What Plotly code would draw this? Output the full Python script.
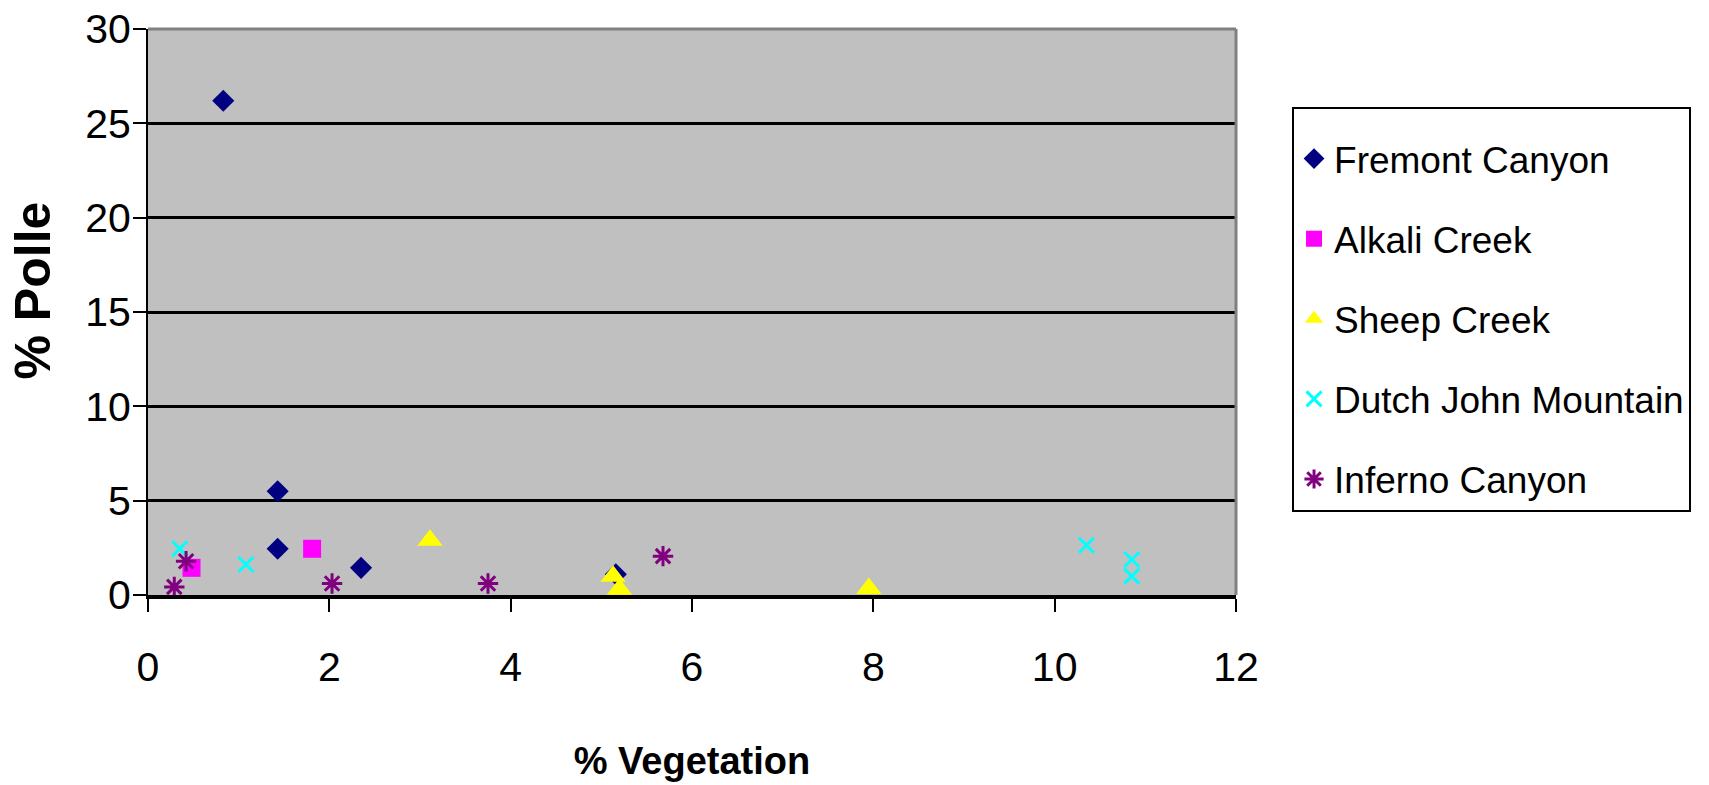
import plotly.graph_objects as go

# ---- data ----
fremont_x = [0.83, 1.43, 1.43, 2.35, 5.16]
fremont_y = [26.2, 5.5, 2.45, 1.44, 1.1]

alkali_x = [0.48, 1.81]
alkali_y = [1.44, 2.45]

sheep_x = [3.11, 5.13, 5.2, 7.95]
sheep_y = [2.9, 1.0, 0.3, 0.35]

dutch_x = [0.35, 1.08, 10.35, 10.85, 10.85]
dutch_y = [2.45, 1.62, 2.64, 1.88, 1.0]

inferno_x = [0.29, 0.42, 2.03, 3.75, 5.68]
inferno_y = [0.43, 1.79, 0.61, 0.61, 2.06]

series_names = ["Fremont Canyon", "Alkali Creek", "Sheep Creek",
                "Dutch John Mountain", "Inferno Canyon"]

x_ticks = [0, 2, 4, 6, 8, 10, 12]
y_ticks = [0, 5, 10, 15, 20, 25, 30]

FONT = "Liberation Sans, Arial, sans-serif"

fig = go.Figure()

styles = [
    (fremont_x, fremont_y, dict(symbol="diamond", size=17, color="#000080")),
    (alkali_x, alkali_y, dict(symbol="square", size=18, color="#FF00FF")),
    (sheep_x, sheep_y, dict(symbol="triangle-up", size=22, color="#FFFF00")),
    (dutch_x, dutch_y, dict(symbol="x-thin-open", size=15, color="#00FFFF",
                            line=dict(color="#00FFFF", width=3))),
    (inferno_x, inferno_y, dict(symbol="asterisk-open", size=17, color="#800080",
                                line=dict(color="#800080", width=3))),
]

for i, (xs, ys, mk) in enumerate(styles):
    fig.add_trace(go.Scatter(
        x=xs, y=ys, mode="markers", name=series_names[i],
        marker=mk, cliponaxis=False, legendgroup=f"g{i}",
    ))

fig.update_layout(
    width=1709, height=785,
    margin=dict(l=148, r=473, t=29, b=190, autoexpand=False),
    paper_bgcolor="white",
    plot_bgcolor="#C0C0C0",
    showlegend=True,
    legend=dict(
        x=1.0515, y=0.863, xanchor="left", yanchor="top",
        bgcolor="white", bordercolor="black", borderwidth=2,
        font=dict(family=FONT, size=37, color="black"),
        traceorder="grouped", tracegroupgap=29,
        title=dict(text="\u00a0", font=dict(size=15)),
    ),
    xaxis=dict(
        range=[0, 12], tickvals=x_ticks, ticktext=[str(v) for v in x_ticks],
        showgrid=False, zeroline=False,
        showline=True, linecolor="black", linewidth=4,
        ticks="outside", ticklen=13, tickwidth=2, tickcolor="black",
        tickfont=dict(family=FONT, size=41, color="black"),
        ticklabelstandoff=20,
        title=dict(text="% Vegetation", standoff=59,
                   font=dict(family=FONT, size=38, color="black", weight="bold")),
    ),
    yaxis=dict(
        range=[0, 30], tickvals=y_ticks, ticktext=[str(v) for v in y_ticks],
        showgrid=True, gridcolor="black", gridwidth=3, zeroline=False,
        showline=True, linecolor="black", linewidth=2,
        ticks="outside", ticklen=13, tickwidth=2, tickcolor="black",
        tickfont=dict(family=FONT, size=41, color="black"),
        ticklabelstandoff=-6,
    ),
    annotations=[
        dict(text="% Polle", textangle=-90, xref="paper", yref="paper",
             x=-0.1057, y=0.538, xanchor="center", yanchor="middle",
             showarrow=False,
             font=dict(family=FONT, size=50, color="black", weight="bold")),
    ],
    shapes=[
        dict(type="line", xref="paper", yref="paper", x0=0, x1=1, y0=1, y1=1,
             line=dict(color="#808080", width=3), layer="above"),
        dict(type="line", xref="paper", yref="paper", x0=1, x1=1, y0=0, y1=1,
             line=dict(color="#808080", width=3), layer="above"),
    ],
)

fig.write_html("out.html")
